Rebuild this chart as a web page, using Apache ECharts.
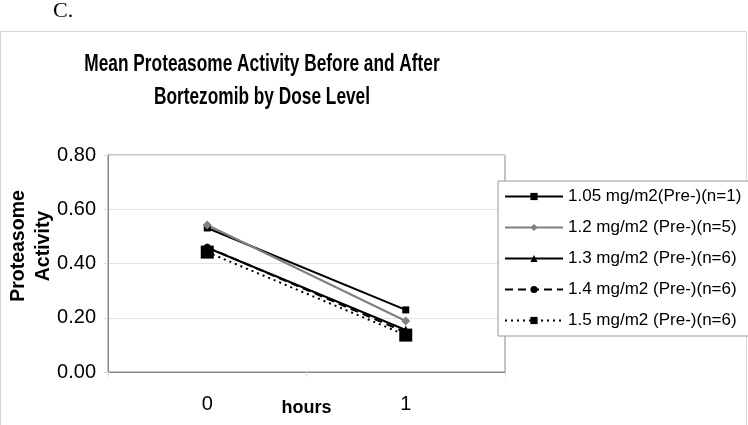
<!DOCTYPE html>
<html><head><meta charset="utf-8">
<script src="https://cdn.jsdelivr.net/npm/echarts@6/dist/echarts.min.js"></script>
<style>html,body{margin:0;padding:0;background:#fff}#c{width:748px;height:425px}</style>
</head><body><div id="c"></div>
<script>
var categories = ['0', '1'];
var seriesNames = ['1.05 mg/m2(Pre-)(n=1)', '1.2 mg/m2 (Pre-)(n=5)', '1.3 mg/m2 (Pre-)(n=6)', '1.4 mg/m2 (Pre-)(n=6)', '1.5 mg/m2 (Pre-)(n=6)'];
var dose105 = [0.531, 0.229];
var dose12 = [0.542, 0.188];
var dose13 = [0.458, 0.155];
var dose14 = [0.460, 0.146];
var dose15 = [0.442, 0.136];
var yTicks = [0, 0.2, 0.4, 0.6, 0.8];
var titleLines = 'Mean Proteasome Activity Before and After\nBortezomib by Dose Level';

var styles = [
  {color: '#000', type: 'solid', symbol: 'rect', size: 7},
  {color: '#808080', type: 'solid', symbol: 'diamond', size: 9},
  {color: '#000', type: 'solid', symbol: 'triangle', size: 9},
  {color: '#000', type: [8, 5], symbol: 'circle', size: 7},
  {color: '#000', type: [2, 4], symbol: 'rect', size: 13}
];
var allData = [dose105, dose12, dose13, dose14, dose15];
var series = allData.map(function (d, i) {
  var s = styles[i];
  return {
    name: seriesNames[i], type: 'line', data: d,
    symbol: s.symbol, symbolSize: s.size, showSymbol: true,
    itemStyle: {color: s.color},
    lineStyle: {color: s.color, width: 2, type: s.type},
    emphasis: {disabled: true}
  };
});

var chart = echarts.init(document.getElementById('c'));
chart.setOption({
  animation: false,
  backgroundColor: '#fff',
  textStyle: {fontFamily: 'Liberation Sans'},
  graphic: [
    {type: 'rect', shape: {x: 0.5, y: 31.5, width: 746, height: 400}, style: {fill: 'none', stroke: '#d8d8d8', lineWidth: 1}, silent: true, z: -1},
    {type: 'text', left: 53, top: 0, style: {text: 'C.', font: '22px "Liberation Serif"', fill: '#000'}},
    {type: 'text', x: 262, y: 48, scaleX: 0.72, style: {text: titleLines, font: 'bold 24px "Liberation Sans"', fill: '#000', align: 'center', verticalAlign: 'top', lineHeight: 33}},
    {type: 'text', x: 31, y: 246, rotation: Math.PI / 2, style: {text: 'Proteasome\nActivity', font: 'bold 19.5px "Liberation Sans"', fill: '#000', align: 'center', verticalAlign: 'middle', lineHeight: 25}}
  ],
  legend: {
    orient: 'vertical', left: 498, top: 181,
    backgroundColor: '#fff', borderColor: '#999', borderWidth: 1,
    padding: [7, 8, 7, 6], itemWidth: 58, itemHeight: 9, itemGap: 14,
    textStyle: {fontSize: 17, color: '#000', fontFamily: 'Liberation Sans'},
    data: seriesNames
  },
  grid: {left: 108, top: 155, width: 397, height: 217, show: true, borderColor: '#888', borderWidth: 1, containLabel: false, outerBoundsMode: 'none'},
  xAxis: {
    type: 'category', data: categories, boundaryGap: true,
    name: 'hours', nameLocation: 'middle', nameGap: 27,
    nameMoveOverlap: false,
    nameTextStyle: {fontSize: 18, fontWeight: 'bold', color: '#000'},
    axisLine: {lineStyle: {color: '#888', width: 1}},
    axisTick: {show: true, length: 5, lineStyle: {color: '#ddd'}},
    axisLabel: {fontSize: 20, color: '#000', margin: 22}
  },
  yAxis: {
    type: 'value', min: yTicks[0], max: yTicks[yTicks.length - 1], interval: 0.2,
    axisLine: {show: true, lineStyle: {color: '#888', width: 1}},
    axisTick: {show: true, length: 4, lineStyle: {color: '#ddd'}},
    splitLine: {lineStyle: {color: '#e4e4e4'}},
    axisLabel: {fontSize: 20, color: '#000', margin: 12, formatter: function (v) { return v.toFixed(2); }}
  },
  series: series
});
</script></body></html>
